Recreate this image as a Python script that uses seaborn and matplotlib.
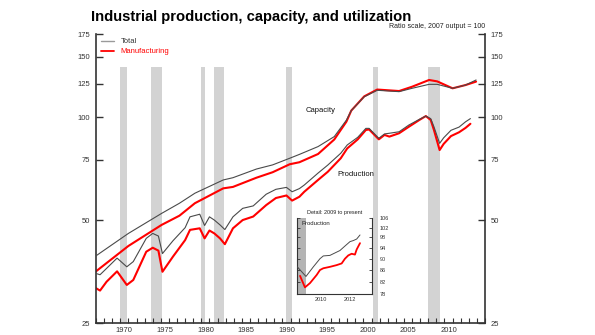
import numpy as np
import pandas as pd
import matplotlib
matplotlib.use("Agg")
import matplotlib.pyplot as plt
from matplotlib.lines import Line2D
from matplotlib.ticker import NullLocator
import seaborn as sns

# ---------------- data ----------------
cap_years = [1967.0, 1971.0, 1975.1, 1977.3, 1979.2, 1982.7, 1983.9, 1986.8, 1988.8,
             1990.9, 1992.1, 1994.4, 1996.4, 1997.9, 1998.5, 2000.1, 2001.7, 2004.4,
             2006.0, 2008.1, 2009.1, 2011.0, 2012.6, 2013.9]
cap_total = [39.3, 45.7, 52.3, 56.0, 59.9, 65.5, 66.5, 70.5, 72.5,
             75.8, 77.8, 82.0, 87.7, 98.0, 104.5, 114.7, 119.8, 118.7,
             121.4, 124.7, 124.7, 121.4, 124.1, 128.4]
cap_mfg = [35.4, 42.0, 48.4, 51.5, 56.0, 61.9, 62.5, 66.5, 69.0,
           72.8, 73.8, 78.0, 86.0, 97.0, 104.5, 115.0, 120.4, 119.2,
           122.7, 128.4, 127.2, 121.4, 124.1, 127.0]

prod_years = [1967.0, 1967.5, 1968.3, 1969.6, 1970.8, 1971.6, 1973.2, 1974.0, 1974.7,
              1975.2, 1976.5, 1978.0, 1978.6, 1979.8, 1980.4, 1981.0, 1981.6, 1982.3,
              1982.9, 1983.9, 1985.1, 1986.4, 1988.0, 1989.2, 1990.5, 1991.2, 1992.1,
              1992.7, 1994.4, 1995.6, 1997.2, 1998.0, 1999.3, 2000.3, 2000.7, 2001.9,
              2002.6, 2003.2, 2004.4, 2005.6, 2006.9, 2007.7, 2008.3, 2008.7, 2009.4,
              2009.9, 2010.8, 2011.8, 2012.6, 2013.2]
prod_total = [34.9, 34.6, 36.1, 38.7, 36.5, 37.8, 44.2, 45.7, 44.9,
              39.9, 43.5, 47.5, 51.1, 52.0, 48.2, 51.1, 50.0, 48.4,
              46.9, 51.1, 54.1, 55.0, 59.5, 61.5, 62.3, 60.5, 61.8,
              63.3, 68.6, 72.4, 78.4, 82.9, 87.3, 92.7, 92.7, 86.7,
              89.3, 89.7, 90.6, 94.8, 98.5, 100.7, 99.0, 93.7, 83.8,
              87.0, 91.5, 93.5, 96.9, 99.0]
prod_mfg = [31.6, 31.1, 33.0, 35.4, 32.3, 33.4, 40.4, 41.5, 40.7,
            35.3, 39.1, 43.7, 46.8, 47.3, 44.2, 46.6, 45.7, 44.2,
            42.5, 47.3, 50.0, 51.2, 55.3, 58.0, 59.0, 57.0, 58.5,
            60.5, 65.5, 69.2, 75.8, 81.0, 86.1, 91.7, 92.0, 86.1,
            88.7, 87.7, 89.7, 93.7, 98.1, 100.7, 98.1, 91.7, 80.1,
            83.5, 88.0, 90.3, 93.0, 95.6]

recessions = [(1969.92, 1970.88), (1973.83, 1975.17), (1980.0, 1980.5),
              (1981.5, 1982.83), (1990.5, 1991.17), (2001.17, 2001.83),
              (2007.92, 2009.46)]

inset_years_total = [2008.85, 2009.45, 2009.96, 2010.42, 2010.65, 2011.11, 2011.34,
                     2011.80, 2012.15, 2012.50, 2012.73, 2012.96, 2013.19]
inset_total = [87.1, 83.8, 87.1, 90.0, 91.0, 91.2, 91.8, 93.0, 94.7, 96.4, 96.8, 97.4, 99.0]
inset_years_mfg = [2009.04, 2009.38, 2009.73, 2010.19, 2010.42, 2010.65, 2011.11, 2011.57,
                   2011.92, 2012.15, 2012.38, 2012.61, 2012.84, 2012.96, 2013.19]
inset_mfg = [84.0, 80.2, 81.6, 84.3, 86.0, 86.6, 87.1, 87.7, 88.3, 90.0, 91.2, 91.8,
             91.5, 93.4, 95.8]

y_ticks = [25, 50, 75, 100, 125, 150, 175]
x_label_years = [1970, 1975, 1980, 1985, 1990, 1995, 2000, 2005, 2010]
inset_y_ticks = [78, 82, 86, 90, 94, 98, 102, 106]
inset_x_label_years = [2010, 2012]

# ---------------- styling ----------------
sns.set_style("white")
plt.rcParams['font.family'] = ['Liberation Sans', 'DejaVu Sans']

GRAY = '#4a4a4a'
RED = '#ff0000'
SPINE = '#333333'
W, H = 595, 335

fig = plt.figure(figsize=(W / 100, H / 100), dpi=100)
fig.patch.set_facecolor('white')


def px(x, y):
    return x / W, 1 - y / H


ax = fig.add_axes([96 / W, 1 - 323 / H, (485 - 96) / W, (323 - 34) / H])
ax.set_facecolor('white')
ax.set_yscale('log')
ax.set_ylim(25, 175)
ax.set_xlim(1967, 2015)

shade_top = np.log(140 / 25) / np.log(175 / 25)
for a, b in recessions:
    ax.axvspan(a, b, ymin=0, ymax=shade_top, color='#d3d3d3', lw=0, zorder=0)

cap_df = pd.DataFrame({'year': cap_years, 'total': cap_total, 'mfg': cap_mfg})
prod_df = pd.DataFrame({'year': prod_years, 'total': prod_total, 'mfg': prod_mfg})

sns.lineplot(data=cap_df, x='year', y='total', ax=ax, color=GRAY, lw=0.8, zorder=3)
sns.lineplot(data=cap_df, x='year', y='mfg', ax=ax, color=RED, lw=1.5, zorder=2)
sns.lineplot(data=prod_df, x='year', y='total', ax=ax, color=GRAY, lw=0.8, zorder=3)
sns.lineplot(data=prod_df, x='year', y='mfg', ax=ax, color=RED, lw=1.5, zorder=2)

ax.set_xlabel('')
ax.set_ylabel('')
ax.yaxis.set_minor_locator(NullLocator())
ax.set_yticks(y_ticks, labels=[str(v) for v in y_ticks])
ax.yaxis.set_minor_locator(NullLocator())
ax.set_xticks(np.arange(1967, 2016), labels=[''] * len(np.arange(1967, 2016)))
ax.set_xticks([y + 0.5 for y in x_label_years], labels=[str(y) for y in x_label_years], minor=True)

ax.tick_params(axis='y', which='major', direction='in', length=5, width=1.0,
               left=True, right=True, labelleft=True, labelright=True,
               labelsize=5.5, pad=4, colors=SPINE)
ax.tick_params(axis='x', which='major', direction='in', length=3.5, width=0.8,
               bottom=True, colors=SPINE)
ax.tick_params(axis='x', which='minor', length=0, labelsize=5.5, pad=3, colors=SPINE)

for side in ['left', 'right', 'bottom']:
    ax.spines[side].set_color(SPINE)
    ax.spines[side].set_linewidth(1.2)
ax.spines['top'].set_visible(False)

handles = [Line2D([], [], color='#9a9a9a', lw=1.0), Line2D([], [], color=RED, lw=1.3)]
leg = ax.legend(handles, ['Total', 'Manufacturing'], loc='upper left',
                bbox_to_anchor=(0.0, 1.005), frameon=False, fontsize=5.5,
                handlelength=1.6, handletextpad=0.9, labelspacing=0.35,
                borderaxespad=0.3)
leg.get_texts()[0].set_color('#333333')
leg.get_texts()[1].set_color(RED)

# title and notes
fig.text(*px(91, 20.5), 'Industrial production, capacity, and utilization',
         fontsize=10.6, fontweight='heavy', ha='left', va='baseline',
         family=['Liberation Sans Narrow', 'Liberation Sans', 'DejaVu Sans'], color='black')
fig.text(*px(485, 27), 'Ratio scale, 2007 output = 100', fontsize=5, ha='right',
         va='center', color='#222222')
fig.text(*px(321, 110.5), 'Capacity', fontsize=5.5, ha='center', va='center', color='#111111')
fig.text(*px(356, 174), 'Production', fontsize=5.5, ha='center', va='center', color='#111111')

# ---------------- inset ----------------
axi = fig.add_axes([297.3 / W, 1 - 294.3 / H, (371.7 - 297.3) / W, (294.3 - 217.5) / H])
axi.set_facecolor('white')
axi.set_yscale('log')
axi.set_ylim(78, 106.2)
axi.set_xlim(2008.85, 2014.0)
axi.axvspan(2008.85, 2009.46, color='#b4b4b4', lw=0, zorder=0)

sns.lineplot(x=inset_years_total, y=inset_total, ax=axi, color=GRAY, lw=0.7, zorder=3)
sns.lineplot(x=inset_years_mfg, y=inset_mfg, ax=axi, color=RED, lw=1.3, zorder=2)

axi.yaxis.set_minor_locator(NullLocator())
axi.set_yticks(inset_y_ticks, labels=[str(v) for v in inset_y_ticks])
axi.yaxis.set_minor_locator(NullLocator())
axi.set_xticks(np.arange(2009, 2014), labels=[''] * 5)
axi.set_xticks([y + 0.5 for y in inset_x_label_years],
               labels=[str(y) for y in inset_x_label_years], minor=True)
axi.tick_params(axis='y', which='major', direction='in', length=2.5, width=0.6,
                left=True, right=True, labelleft=False, labelright=True,
                labelsize=4, pad=6, colors=SPINE)
axi.tick_params(axis='x', which='major', direction='in', length=2, width=0.6, colors=SPINE)
axi.tick_params(axis='x', which='minor', length=0, labelsize=4, pad=2, colors=SPINE)
for side in ['left', 'right', 'bottom']:
    axi.spines[side].set_color(SPINE)
    axi.spines[side].set_linewidth(0.8)
axi.spines['top'].set_visible(False)
axi.set_xlabel('')
axi.set_ylabel('')
axi.set_title('Detail: 2009 to present', fontsize=4, pad=2.5, color='#222222')
axi.text(0.05, 0.96, 'Production', transform=axi.transAxes, fontsize=4.3,
         ha='left', va='top', color='#222222')

fig.savefig('out.png', dpi=100, facecolor='white')
